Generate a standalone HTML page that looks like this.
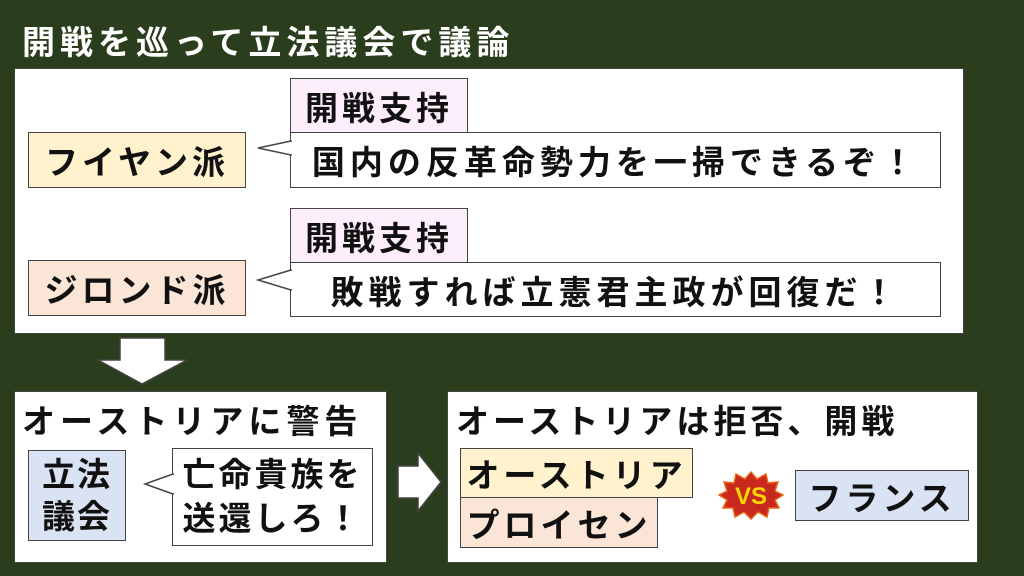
<!DOCTYPE html><html><head><meta charset="utf-8"><style>
body{margin:0;width:1024px;height:576px;background:#2a3d1c;position:relative;overflow:hidden;font-family:"Liberation Sans","Noto Sans CJK JP",sans-serif;font-weight:bold;}
.b{position:absolute;box-sizing:border-box;border:1.5px solid #444;display:flex;align-items:center;justify-content:center;color:#111;white-space:nowrap;font-size:33px;letter-spacing:4px;}
.w{background:#fff;}
.t{position:absolute;white-space:nowrap;color:#111;font-size:33px;letter-spacing:5px;}
</style></head><body>
<div class="t" style="left:22px;top:16px;color:#fff;letter-spacing:5px">開戦を巡って立法議会で議論</div>
<div class="b w" style="left:14px;top:68px;width:950px;height:266px"></div>
<div class="b" style="left:28px;top:132px;width:218px;height:56px;background:#fff2cc">フイヤン派</div>
<div class="b" style="left:290px;top:78px;width:178px;height:55px;background:#fdeefc">開戦支持</div>
<div class="b w" style="left:290px;top:132px;width:651px;height:56px;letter-spacing:5px">国内の反革命勢力を一掃できるぞ！</div>
<div class="b" style="left:28px;top:260px;width:218px;height:56px;background:#fbe5d6">ジロンド派</div>
<div class="b" style="left:290px;top:208px;width:178px;height:55px;background:#fdeefc">開戦支持</div>
<div class="b w" style="left:290px;top:262px;width:651px;height:55px;letter-spacing:5px">敗戦すれば立憲君主政が回復だ！</div>
<svg style="position:absolute;left:0;top:0" width="1024" height="576">
<polygon points="291,141 258,148 291,155" fill="#fff" stroke="#444" stroke-width="1.5"/>
<line x1="291" y1="142" x2="291" y2="154" stroke="#fff" stroke-width="3"/>
<polygon points="291,270 258,280 291,290" fill="#fff" stroke="#444" stroke-width="1.5"/>
<line x1="291" y1="271" x2="291" y2="289" stroke="#fff" stroke-width="3"/>
<polygon points="120,338 165,338 165,360 187,360 142,384 98,360 120,360" fill="#fff" stroke="#444" stroke-width="1.5"/>
<polygon points="398,466 418,466 418,453 441,482 418,511 418,498 398,498" fill="#fff" stroke="#444" stroke-width="1.5"/>
</svg>
<div class="b w" style="left:14px;top:391px;width:373px;height:172px"></div>
<div class="t" style="left:22px;top:395px">オーストリアに警告</div>
<div class="b" style="left:28px;top:450px;width:98px;height:91px;background:#dae3f3;white-space:normal;text-align:center;line-height:42px;letter-spacing:2px">立法<br>議会</div>
<div class="b w" style="left:172px;top:448px;width:201px;height:98px;white-space:normal;line-height:44px;text-align:left;letter-spacing:3px">亡命貴族を<br>送還しろ！</div>
<svg style="position:absolute;left:0;top:0" width="1024" height="576">
<polygon points="173,474 145,484 173,494" fill="#fff" stroke="#444" stroke-width="1.5"/>
<line x1="173" y1="475" x2="173" y2="493" stroke="#fff" stroke-width="3"/>
</svg>
<div class="b w" style="left:447px;top:391px;width:531px;height:172px"></div>
<div class="t" style="left:456px;top:395px;letter-spacing:4px">オーストリアは拒否、開戦</div>
<div class="b" style="left:460px;top:448px;width:233px;height:50px;background:#fff2cc">オーストリア</div>
<div class="b" style="left:460px;top:497px;width:198px;height:51px;background:#fbe5d6">プロイセン</div>
<div class="b" style="left:795px;top:470px;width:174px;height:51px;background:#dae3f3">フランス</div>
<svg style="position:absolute;left:718px;top:470px" width="66" height="50">
<polygon points="33,2 39,9 48,4 50,13 60,12 57,21 65,25 57,30 61,38 51,38 49,47 40,42 33,49 26,42 17,47 15,38 5,38 9,30 1,25 9,21 6,12 16,13 18,4 27,9" fill="#c8281e" stroke="#e8661a" stroke-width="1.5"/>
<text x="33" y="34" text-anchor="middle" font-size="24" font-weight="bold" fill="#ffd700" font-family="Liberation Sans,sans-serif">VS</text>
</svg>
</body></html>
